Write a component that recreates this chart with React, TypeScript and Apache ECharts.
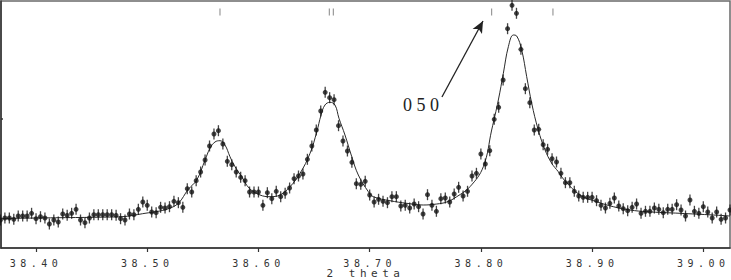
import React, { useEffect, useRef } from "react";
import * as echarts from "echarts";

// Step-scan parameters (2 theta, degrees)
const SCAN_START = 38.368;
const SCAN_STEP = 0.004;

const observed = [
  28, 30, 30, 28.7, 32, 32, 32, 34.7, 29.3, 31.3,
  30, 24, 28, 26, 34, 32.7, 34.7, 38.7, 28, 25.3,
  30, 33.3, 33.3, 33.3, 33.3, 33.3, 32.7, 29.3, 28, 34,
  33.3, 38.7, 46, 42.7, 36, 35.3, 40.7, 40, 41.3, 46.7,
  45.3, 40.7, 59.3, 56, 67.3, 76, 88, 102, 114, 117.3,
  104, 86.7, 83.3, 76, 70.7, 67.3, 56, 56, 56, 42.7,
  55.3, 49.3, 56.7, 51.3, 54.7, 60, 69.3, 72, 74, 88.7,
  102, 118, 137, 155.7, 150.3, 148.3, 122.3, 107, 97, 85.7,
  64.3, 63.7, 66.7, 53, 46, 48.7, 46.7, 45.3, 51.3, 51.3,
  42, 42.7, 40, 44, 41.3, 34, 53.3, 42.7, 36.7, 49.3,
  50, 46, 54, 60.7, 52, 56.7, 72, 74.7, 94, 84,
  97.3, 128.7, 140.7, 168, 219.3, 242.7, 234.7, 198.7, 159.3, 145.3,
  118, 118.7, 103.3, 98.7, 89.3, 86, 74.7, 65.3, 65.3, 56.7,
  52, 50.7, 50.7, 50.7, 47.3, 42.7, 40, 44.7, 50, 42,
  39.3, 37.3, 40.7, 44, 34.7, 36.7, 36.7, 40, 38.7, 35.3,
  38.7, 38.7, 43.3, 38, 32, 48, 36.7, 34.7, 41.3, 36,
  30, 36, 28.7, 30, 38,
];

// Fitted profile
const fitTheta = [
  38.3685, 38.4216, 38.4575, 38.48, 38.489, 38.498, 38.5088, 38.519, 38.5279, 38.5369,
  38.5445, 38.552, 38.5564, 38.5609, 38.5654, 38.5699, 38.5744, 38.5789, 38.5849, 38.5918,
  38.6014, 38.6104, 38.6194, 38.6284, 38.6374, 38.6464, 38.6524, 38.6563, 38.6598, 38.6643,
  38.6688, 38.6724, 38.6778, 38.6839, 38.6898, 38.6988, 38.7033, 38.7183, 38.7333, 38.7482,
  38.7603, 38.7693, 38.7783, 38.7902, 38.8022, 38.8097, 38.8157, 38.8202, 38.8247, 38.8292,
  38.8322, 38.8367, 38.8412, 38.8457, 38.8516, 38.8577, 38.8637, 38.8696, 38.875, 38.8891,
  38.9041, 38.9191, 38.9341, 38.9491, 38.979, 39.009, 39.024,
];
const fitIntensity = [
  29.5, 30.3, 30.8, 31.5, 33, 34.7, 36.5, 39.3, 44.7, 58.7,
  68, 88, 99.7, 106, 107.3, 103, 91.3, 81.3, 71.3, 59.7,
  53, 51.3, 53, 61.3, 74.7, 94.7, 116, 133, 143, 145.7,
  143, 129.7, 113, 91.3, 73, 56.3, 51.3, 47.3, 44.7, 43,
  44, 46, 51.3, 61.3, 81.3, 118, 148, 174.7, 201.3, 213,
  212, 198, 171.3, 144.7, 118, 98, 84.7, 76.3, 68, 53,
  46.3, 41.3, 38, 36.3, 34.7, 33, 32,
];

// Reflection (peak position) markers along the top
const reflections = [38.5654, 38.6637, 38.6673, 38.8097, 38.8648];
const reflectionLevel = 236;

// Axis ticks
const xTicks = [38.4, 38.5, 38.6, 38.7, 38.8, 38.9, 39.0];
const yTicks = [129];

// Annotation
const annotationText = "050";
const arrowFrom = [38.765, 151];
const arrowTo = [38.8019, 227];

export default function App() {
  const ref = useRef<HTMLDivElement>(null);

  useEffect(() => {
    if (!ref.current) return;
    const chart = echarts.init(ref.current, null, { renderer: "svg" });
    const obsData = observed.map((v, i) => [
      +(SCAN_START + i * SCAN_STEP).toFixed(4),
      v,
    ]);
    const fitData = fitTheta.map((t, i) => [t, fitIntensity[i]]);
    const reflData = reflections.map((t) => [t, reflectionLevel]);

    chart.setOption({
      animation: false,
      backgroundColor: "#ffffff",
      grid: {
        left: 1,
        right: 1,
        top: 1,
        bottom: 32,
        show: true,
        borderColor: "#6a6a6a",
        borderWidth: 1.5,
        containLabel: false,
        outerBoundsMode: "none",
      },
      xAxis: {
        type: "value",
        min: 38.3685,
        max: 39.024,
        name: "2 theta",
        nameLocation: "middle",
        nameGap: 20,
        nameMoveOverlap: false,
        nameTextStyle: {
          fontFamily: "DejaVu Sans Mono",
          fontSize: 11,
          lineHeight: 11,
          color: "#333",
        },
        axisLine: { show: true, lineStyle: { color: "#333", width: 1.5 } },
        axisTick: {
          show: true,
          length: 4,
          customValues: xTicks,
          lineStyle: { color: "#333", width: 1.2 },
        },
        axisLabel: {
          customValues: xTicks,
          formatter: (v: number) => v.toFixed(2),
          fontFamily: "DejaVu Sans Mono",
          fontSize: 10,
          lineHeight: 10,
          color: "#333",
          margin: 10,
        },
        splitLine: { show: false },
      },
      yAxis: {
        type: "value",
        min: 0,
        max: 247,
        axisLine: { show: true, lineStyle: { color: "#333", width: 1.5 } },
        axisTick: {
          show: true,
          inside: true,
          length: 2,
          customValues: yTicks,
          lineStyle: { color: "#333", width: 1.5 },
        },
        axisLabel: { show: false },
        splitLine: { show: false },
      },
      series: [
        {
          type: "line",
          data: fitData,
          smooth: 0.4,
          showSymbol: false,
          symbol: "none",
          lineStyle: { color: "#2a2a2a", width: 1 },
          z: 2,
          markLine: {
            silent: true,
            animation: false,
            label: { show: false },
            lineStyle: { color: "#222", width: 1.3, type: "solid" },
            data: [
              [
                { coord: arrowFrom, symbol: "none" },
                { coord: arrowTo, symbol: "arrow", symbolSize: [8, 12] },
              ],
            ],
          },
        },
        {
          type: "scatter",
          data: obsData,
          symbol: "rect",
          symbolSize: [1.3, 11],
          itemStyle: { color: "#151515" },
          clip: false,
          z: 3,
        },
        {
          type: "scatter",
          data: obsData,
          symbol: "circle",
          symbolSize: 5,
          itemStyle: { color: "#151515" },
          clip: false,
          z: 4,
        },
        {
          type: "scatter",
          data: reflData,
          symbol: "rect",
          symbolSize: [1, 7],
          itemStyle: { color: "#666" },
          z: 3,
        },
      ],
      graphic: [
        {
          type: "text",
          x: 403,
          y: 96,
          style: {
            text: annotationText,
            fontFamily: "Liberation Serif",
            fontSize: 18,
            fill: "#222",
            textVerticalAlign: "top",
          },
          z: 10,
        },
      ],
    });
    return () => chart.dispose();
  }, []);

  return (
    <>
      <style>{`
        .xrd-chart text[style*="DejaVu Sans Mono"] { letter-spacing: 4.5px; }
        .xrd-chart text[style*="font-size:11px"][style*="DejaVu Sans Mono"] { letter-spacing: 3.9px; }
        .xrd-chart text[style*="Liberation Serif"] { letter-spacing: 4.5px; }
      `}</style>
      <div
        ref={ref}
        className="xrd-chart"
        style={{
          position: "absolute",
          left: 0,
          top: 0,
          width: 731,
          height: 280,
        }}
      />
    </>
  );
}
